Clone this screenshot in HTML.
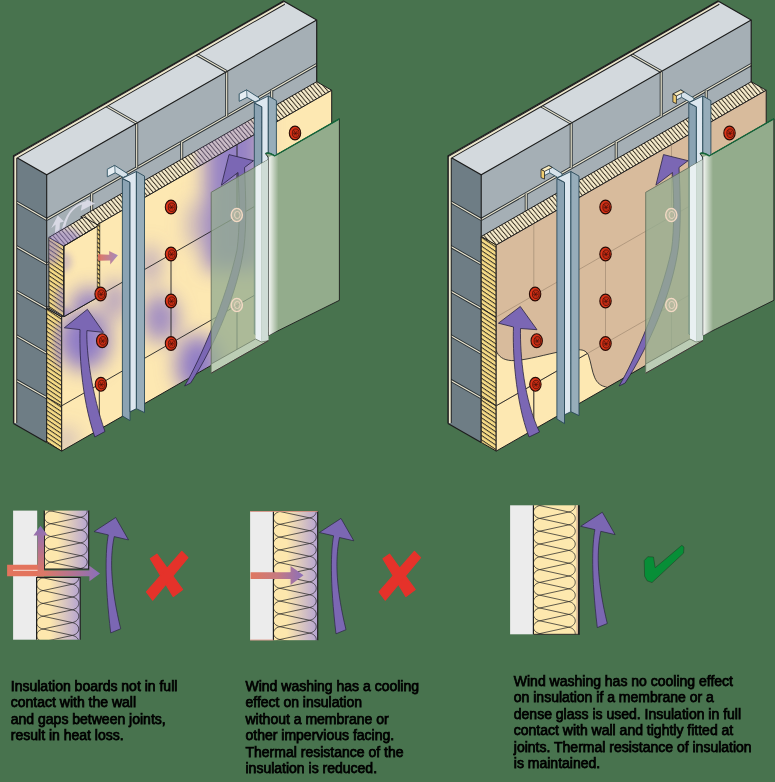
<!DOCTYPE html>
<html><head><meta charset="utf-8"><style>
html,body{margin:0;padding:0;background:#48734e;}
svg{display:block}
</style></head><body>
<svg width="775" height="782" viewBox="0 0 775 782">
<rect width="775" height="782" fill="#48734e"/>

<defs>
<pattern id="hatchTop" patternUnits="userSpaceOnUse" width="4.4" height="40" patternTransform="skewX(40)">
<rect width="4.4" height="40" fill="#f6ecce"/><rect x="0" width="1.0" height="40" fill="#332d24"/><rect x="1.0" width="0.6" height="40" fill="#b0a486"/><rect x="3.7" width="0.7" height="40" fill="#d9cca8"/>
</pattern>
<pattern id="hatchSide" patternUnits="userSpaceOnUse" width="40" height="4.4" patternTransform="skewY(34)">
<rect width="40" height="4.4" fill="#f5da85"/><rect y="0" width="40" height="1.2" fill="#3b352a"/>
</pattern>
<pattern id="hatchSide2" patternUnits="userSpaceOnUse" width="40" height="4.4" patternTransform="skewY(34)">
<rect width="40" height="4.4" fill="#f2d37a"/><rect y="0" width="40" height="1.5" fill="#3b352a"/>
</pattern>
<linearGradient id="glassHi" x1="0" x2="1"><stop offset="0" stop-color="#fff" stop-opacity="0.9"/><stop offset="1" stop-color="#fff" stop-opacity="0"/></linearGradient>
<linearGradient id="salmonIso" gradientUnits="userSpaceOnUse" x1="98" y1="0" x2="118" y2="0"><stop offset="0" stop-color="#e06c58"/><stop offset="1" stop-color="#9a80c0"/></linearGradient>
<filter id="blurA" x="-80%" y="-80%" width="260%" height="260%"><feGaussianBlur stdDeviation="10"/></filter>
<filter id="blurB" x="-60%" y="-60%" width="220%" height="220%"><feGaussianBlur stdDeviation="3"/></filter>
<clipPath id="frontL"><polygon points="61.7,245.1 331.7,90.3 331.7,296.3 61.7,451.1"/></clipPath>
<clipPath id="frontR"><polygon points="496.2,245.1 766.2,90.3 766.2,296.3 496.2,451.1"/></clipPath>
</defs>

<linearGradient id="battGrad" x1="0" x2="1"><stop offset="0.3" stop-color="#fde7ad"/><stop offset="1" stop-color="#b4a3d3"/></linearGradient>
<linearGradient id="salmonH" gradientUnits="userSpaceOnUse" x1="7" y1="0" x2="100" y2="0"><stop offset="0" stop-color="#e5735c"/><stop offset="0.4" stop-color="#dc7868"/><stop offset="1" stop-color="#8a6fbb"/></linearGradient>
<linearGradient id="salmonV" gradientUnits="userSpaceOnUse" x1="0" y1="576" x2="0" y2="526"><stop offset="0" stop-color="#e27660"/><stop offset="1" stop-color="#8a6fba"/></linearGradient>
<linearGradient id="salmonH2" gradientUnits="userSpaceOnUse" x1="250" x2="304"><stop offset="0" stop-color="#e0775f"/><stop offset="0.5" stop-color="#c77a80"/><stop offset="1" stop-color="#8a6fbb"/></linearGradient>
<rect x="13.1" y="510.6" width="24.1" height="129.1" fill="#ececec"/>
<rect x="44.3" y="510.6" width="44.4" height="58.4" fill="url(#battGrad)"/>
<clipPath id="c1"><rect x="44.3" y="510.6" width="44.4" height="58.4"/></clipPath><path clip-path="url(#c1)" d="M80.71,478.90 L50.83,485.30 L80.71,491.70 L50.83,498.10 L80.71,504.50 L50.83,510.90 L80.71,517.30 L50.83,523.70 L80.71,530.10 L50.83,536.50 L80.71,542.90 L50.83,549.30 L80.71,555.70 L50.83,562.10 L80.71,568.50 L50.83,574.90 L80.71,581.30 L50.83,587.70 M50.83,485.30 C42.14,487.16 42.14,496.24 50.83,498.10 M50.83,498.10 C42.14,499.96 42.14,509.04 50.83,510.90 M50.83,510.90 C42.14,512.76 42.14,521.84 50.83,523.70 M50.83,523.70 C42.14,525.56 42.14,534.64 50.83,536.50 M50.83,536.50 C42.14,538.36 42.14,547.44 50.83,549.30 M50.83,549.30 C42.14,551.16 42.14,560.24 50.83,562.10 M50.83,562.10 C42.14,563.96 42.14,573.04 50.83,574.90 M50.83,574.90 C42.14,576.76 42.14,585.84 50.83,587.70 M80.71,478.90 C89.39,480.76 89.39,489.84 80.71,491.70 M80.71,491.70 C89.39,493.56 89.39,502.64 80.71,504.50 M80.71,504.50 C89.39,506.36 89.39,515.44 80.71,517.30 M80.71,517.30 C89.39,519.16 89.39,528.24 80.71,530.10 M80.71,530.10 C89.39,531.96 89.39,541.04 80.71,542.90 M80.71,542.90 C89.39,544.76 89.39,553.84 80.71,555.70 M80.71,555.70 C89.39,557.56 89.39,566.64 80.71,568.50 M80.71,568.50 C89.39,570.36 89.39,579.44 80.71,581.30 M80.71,581.30 C89.39,583.16 89.39,592.24 80.71,594.10" fill="none" stroke="#2a2a2a" stroke-width="0.75"/>
<path d="M44.3,510.6 V569 H88.7 V510.6" fill="none" stroke="#1e1e1e" stroke-width="1.2"/>
<rect x="36.6" y="577.5" width="43.6" height="62.2" fill="url(#battGrad)"/>
<clipPath id="c2"><rect x="36.6" y="577.5" width="43.6" height="62.2"/></clipPath><path clip-path="url(#c2)" d="M72.35,545.80 L43.01,552.20 L72.35,558.60 L43.01,565.00 L72.35,571.40 L43.01,577.80 L72.35,584.20 L43.01,590.60 L72.35,597.00 L43.01,603.40 L72.35,609.80 L43.01,616.20 L72.35,622.60 L43.01,629.00 L72.35,635.40 L43.01,641.80 L72.35,648.20 L43.01,654.60 M43.01,552.20 C34.49,554.06 34.49,563.14 43.01,565.00 M43.01,565.00 C34.49,566.86 34.49,575.94 43.01,577.80 M43.01,577.80 C34.49,579.66 34.49,588.74 43.01,590.60 M43.01,590.60 C34.49,592.46 34.49,601.54 43.01,603.40 M43.01,603.40 C34.49,605.26 34.49,614.34 43.01,616.20 M43.01,616.20 C34.49,618.06 34.49,627.14 43.01,629.00 M43.01,629.00 C34.49,630.86 34.49,639.94 43.01,641.80 M43.01,641.80 C34.49,643.66 34.49,652.74 43.01,654.60 M72.35,545.80 C80.87,547.66 80.87,556.74 72.35,558.60 M72.35,558.60 C80.87,560.46 80.87,569.54 72.35,571.40 M72.35,571.40 C80.87,573.26 80.87,582.34 72.35,584.20 M72.35,584.20 C80.87,586.06 80.87,595.14 72.35,597.00 M72.35,597.00 C80.87,598.86 80.87,607.94 72.35,609.80 M72.35,609.80 C80.87,611.66 80.87,620.74 72.35,622.60 M72.35,622.60 C80.87,624.46 80.87,633.54 72.35,635.40 M72.35,635.40 C80.87,637.26 80.87,646.34 72.35,648.20 M72.35,648.20 C80.87,650.06 80.87,659.14 72.35,661.00" fill="none" stroke="#2a2a2a" stroke-width="0.75"/>
<path d="M36.6,639.7 V577.5 H80.2 V639.7" fill="none" stroke="#1e1e1e" stroke-width="1.2"/>
<path d="M7.1,564.7 H44 V576.2 H7.1 Z" fill="#e3745d"/>
<path d="M37.6,576.2 V535.6 H33.4 L40.5,525.7 L47.6,535.6 H44 V576.2 Z" fill="url(#salmonV)"/>
<path d="M37.6,570.5 H89.4 V565.8 L100,573.6 L89.4,581.3 V576.3 H37.6 Z" fill="url(#salmonH)"/>
<line x1="13" y1="570.3" x2="37.6" y2="570.3" stroke="#fbeee8" stroke-width="0.9"/>
<path d="M108.3,534.9 C105.5,550 104.5,580 110.7,632.9 L120.7,628.8 C111.3,590 109.3,560 114.2,536.6 L128.5,539.9 L115.7,517.5 L94.1,531.6 Z" fill="#7b67b3" stroke="#2a2540" stroke-width="0.7" stroke-linejoin="round"/>
<polygon points="150.4,558.8 156.9,554.2 182.6,589.5 173.2,596.4" fill="#e5322a" stroke="#e5322a" stroke-width="1.2" stroke-linejoin="round"/><polygon points="181.8,551.5 187.9,557.7 152.7,600.2 146.5,592.0" fill="#e5322a" stroke="#e5322a" stroke-width="1.2" stroke-linejoin="round"/>
<rect x="250.1" y="511.2" width="23.3" height="129" fill="#ececec"/>
<rect x="273.4" y="511.2" width="44.3" height="129" fill="url(#battGrad)"/>
<clipPath id="c3"><rect x="273.4" y="511.2" width="44.3" height="129"/></clipPath><path clip-path="url(#c3)" d="M309.73,479.50 L279.91,485.90 L309.73,492.30 L279.91,498.70 L309.73,505.10 L279.91,511.50 L309.73,517.90 L279.91,524.30 L309.73,530.70 L279.91,537.10 L309.73,543.50 L279.91,549.90 L309.73,556.30 L279.91,562.70 L309.73,569.10 L279.91,575.50 L309.73,581.90 L279.91,588.30 L309.73,594.70 L279.91,601.10 L309.73,607.50 L279.91,613.90 L309.73,620.30 L279.91,626.70 L309.73,633.10 L279.91,639.50 L309.73,645.90 L279.91,652.30 L309.73,658.70 L279.91,665.10 M279.91,485.90 C271.25,487.76 271.25,496.84 279.91,498.70 M279.91,498.70 C271.25,500.56 271.25,509.64 279.91,511.50 M279.91,511.50 C271.25,513.36 271.25,522.44 279.91,524.30 M279.91,524.30 C271.25,526.16 271.25,535.24 279.91,537.10 M279.91,537.10 C271.25,538.96 271.25,548.04 279.91,549.90 M279.91,549.90 C271.25,551.76 271.25,560.84 279.91,562.70 M279.91,562.70 C271.25,564.56 271.25,573.64 279.91,575.50 M279.91,575.50 C271.25,577.36 271.25,586.44 279.91,588.30 M279.91,588.30 C271.25,590.16 271.25,599.24 279.91,601.10 M279.91,601.10 C271.25,602.96 271.25,612.04 279.91,613.90 M279.91,613.90 C271.25,615.76 271.25,624.84 279.91,626.70 M279.91,626.70 C271.25,628.56 271.25,637.64 279.91,639.50 M279.91,639.50 C271.25,641.36 271.25,650.44 279.91,652.30 M279.91,652.30 C271.25,654.16 271.25,663.24 279.91,665.10 M309.73,479.50 C318.39,481.36 318.39,490.44 309.73,492.30 M309.73,492.30 C318.39,494.16 318.39,503.24 309.73,505.10 M309.73,505.10 C318.39,506.96 318.39,516.04 309.73,517.90 M309.73,517.90 C318.39,519.76 318.39,528.84 309.73,530.70 M309.73,530.70 C318.39,532.56 318.39,541.64 309.73,543.50 M309.73,543.50 C318.39,545.36 318.39,554.44 309.73,556.30 M309.73,556.30 C318.39,558.16 318.39,567.24 309.73,569.10 M309.73,569.10 C318.39,570.96 318.39,580.04 309.73,581.90 M309.73,581.90 C318.39,583.76 318.39,592.84 309.73,594.70 M309.73,594.70 C318.39,596.56 318.39,605.64 309.73,607.50 M309.73,607.50 C318.39,609.36 318.39,618.44 309.73,620.30 M309.73,620.30 C318.39,622.16 318.39,631.24 309.73,633.10 M309.73,633.10 C318.39,634.96 318.39,644.04 309.73,645.90 M309.73,645.90 C318.39,647.76 318.39,656.84 309.73,658.70" fill="none" stroke="#2a2a2a" stroke-width="0.75"/>
<path d="M273.4,511.2 V640.2 M317.7,511.2 V640.2" fill="none" stroke="#1e1e1e" stroke-width="1.2"/>
<line x1="250.1" y1="511.5" x2="317.7" y2="511.5" stroke="#d98a7a" stroke-width="0.9" opacity="0.85"/><line x1="250.1" y1="640" x2="273.4" y2="640" stroke="#d98a7a" stroke-width="0.9" opacity="0.85"/>
<path d="M250.6,572.2 H290.6 V566 L303.5,575.2 L290.6,585 V579 H250.6 Z" fill="url(#salmonH2)"/>
<path d="M333.6,535.8 C330.8,550.9 329.8,580.9 336.0,633.8 L346.0,629.6999999999999 C336.6,590.9 334.6,560.9 339.5,537.5 L353.8,540.8 L341.0,518.4 L319.4,532.5 Z" fill="#7b67b3" stroke="#2a2540" stroke-width="0.7" stroke-linejoin="round"/>
<polygon points="383.0,558.8 389.5,554.2 415.2,589.5 405.8,596.4" fill="#e5322a" stroke="#e5322a" stroke-width="1.2" stroke-linejoin="round"/><polygon points="414.4,551.5 420.5,557.7 385.3,600.2 379.1,592.0" fill="#e5322a" stroke="#e5322a" stroke-width="1.2" stroke-linejoin="round"/>
<rect x="510.1" y="505.3" width="23.3" height="129" fill="#ececec"/>
<rect x="533.4" y="505.3" width="44.3" height="129" fill="#fde8ae"/>
<clipPath id="c4"><rect x="533.4" y="505.3" width="43.3" height="129"/></clipPath><path clip-path="url(#c4)" d="M568.91,473.60 L539.77,480.00 L568.91,486.40 L539.77,492.80 L568.91,499.20 L539.77,505.60 L568.91,512.00 L539.77,518.40 L568.91,524.80 L539.77,531.20 L568.91,537.60 L539.77,544.00 L568.91,550.40 L539.77,556.80 L568.91,563.20 L539.77,569.60 L568.91,576.00 L539.77,582.40 L568.91,588.80 L539.77,595.20 L568.91,601.60 L539.77,608.00 L568.91,614.40 L539.77,620.80 L568.91,627.20 L539.77,633.60 L568.91,640.00 L539.77,646.40 L568.91,652.80 L539.77,659.20 M539.77,480.00 C531.31,481.86 531.31,490.94 539.77,492.80 M539.77,492.80 C531.31,494.66 531.31,503.74 539.77,505.60 M539.77,505.60 C531.31,507.46 531.31,516.54 539.77,518.40 M539.77,518.40 C531.31,520.26 531.31,529.34 539.77,531.20 M539.77,531.20 C531.31,533.06 531.31,542.14 539.77,544.00 M539.77,544.00 C531.31,545.86 531.31,554.94 539.77,556.80 M539.77,556.80 C531.31,558.66 531.31,567.74 539.77,569.60 M539.77,569.60 C531.31,571.46 531.31,580.54 539.77,582.40 M539.77,582.40 C531.31,584.26 531.31,593.34 539.77,595.20 M539.77,595.20 C531.31,597.06 531.31,606.14 539.77,608.00 M539.77,608.00 C531.31,609.86 531.31,618.94 539.77,620.80 M539.77,620.80 C531.31,622.66 531.31,631.74 539.77,633.60 M539.77,633.60 C531.31,635.46 531.31,644.54 539.77,646.40 M539.77,646.40 C531.31,648.26 531.31,657.34 539.77,659.20 M568.91,473.60 C577.36,475.46 577.36,484.54 568.91,486.40 M568.91,486.40 C577.36,488.26 577.36,497.34 568.91,499.20 M568.91,499.20 C577.36,501.06 577.36,510.14 568.91,512.00 M568.91,512.00 C577.36,513.86 577.36,522.94 568.91,524.80 M568.91,524.80 C577.36,526.66 577.36,535.74 568.91,537.60 M568.91,537.60 C577.36,539.46 577.36,548.54 568.91,550.40 M568.91,550.40 C577.36,552.26 577.36,561.34 568.91,563.20 M568.91,563.20 C577.36,565.06 577.36,574.14 568.91,576.00 M568.91,576.00 C577.36,577.86 577.36,586.94 568.91,588.80 M568.91,588.80 C577.36,590.66 577.36,599.74 568.91,601.60 M568.91,601.60 C577.36,603.46 577.36,612.54 568.91,614.40 M568.91,614.40 C577.36,616.26 577.36,625.34 568.91,627.20 M568.91,627.20 C577.36,629.06 577.36,638.14 568.91,640.00 M568.91,640.00 C577.36,641.86 577.36,650.94 568.91,652.80" fill="none" stroke="#2a2a2a" stroke-width="0.75"/>
<path d="M533.4,505.3 V634.3" fill="none" stroke="#1e1e1e" stroke-width="1.2"/>
<rect x="576.4" y="505.3" width="1.6" height="129" fill="#d9b99a"/>
<rect x="578" y="505.3" width="1.8" height="129" fill="#222"/>
<line x1="533.4" y1="634.3" x2="579.8" y2="634.3" stroke="#222" stroke-width="0.9"/>
<path d="M594.9,529.6 C592.1,544.7 591.1,574.7 597.3000000000001,627.6 L607.3000000000001,623.5 C597.9,584.7 595.9,554.7 600.8000000000001,531.3000000000001 L615.1,534.6 L602.3000000000001,512.2 L580.7,526.3000000000001 Z" fill="#7b67b3" stroke="#2a2540" stroke-width="0.7" stroke-linejoin="round"/>
<polygon points="644.2,560.6 647.8,556.7 653.5,557 655.2,567.7 681.8,545.3 684,547.1 683.6,553.1 652,582.6 647.1,580.8 644.6,576.2" fill="#078e37" stroke="#1d3a20" stroke-width="0.5" stroke-linejoin="round"/>
<polygon points="46.7,174.8 316.7,20.0 316.7,287.6 46.7,442.4" fill="#a5afb5"/>
<polygon points="13.5,155.8 46.7,174.8 46.7,442.4 13.5,423.4" fill="#6e7d85"/>
<polygon points="13.5,155.8 283.5,1.0 316.7,20.0 46.7,174.8" fill="#d3d9dd"/>
<line x1="46.7" y1="219.4" x2="316.7" y2="64.6" stroke="#2a3135" stroke-width="3.0" /><line x1="46.7" y1="219.4" x2="316.7" y2="64.6" stroke="#ebe6d0" stroke-width="1.2" />
<line x1="15.5" y1="201.5" x2="46.7" y2="219.4" stroke="#2a3135" stroke-width="3.0" /><line x1="15.5" y1="201.5" x2="46.7" y2="219.4" stroke="#ebe6d0" stroke-width="1.2" />
<line x1="46.7" y1="264.0" x2="316.7" y2="109.2" stroke="#2a3135" stroke-width="3.0" /><line x1="46.7" y1="264.0" x2="316.7" y2="109.2" stroke="#ebe6d0" stroke-width="1.2" />
<line x1="15.5" y1="246.1" x2="46.7" y2="264.0" stroke="#2a3135" stroke-width="3.0" /><line x1="15.5" y1="246.1" x2="46.7" y2="264.0" stroke="#ebe6d0" stroke-width="1.2" />
<line x1="46.7" y1="308.6" x2="316.7" y2="153.8" stroke="#2a3135" stroke-width="3.0" /><line x1="46.7" y1="308.6" x2="316.7" y2="153.8" stroke="#ebe6d0" stroke-width="1.2" />
<line x1="15.5" y1="290.7" x2="46.7" y2="308.6" stroke="#2a3135" stroke-width="3.0" /><line x1="15.5" y1="290.7" x2="46.7" y2="308.6" stroke="#ebe6d0" stroke-width="1.2" />
<line x1="46.7" y1="353.2" x2="316.7" y2="198.4" stroke="#2a3135" stroke-width="3.0" /><line x1="46.7" y1="353.2" x2="316.7" y2="198.4" stroke="#ebe6d0" stroke-width="1.2" />
<line x1="15.5" y1="335.3" x2="46.7" y2="353.2" stroke="#2a3135" stroke-width="3.0" /><line x1="15.5" y1="335.3" x2="46.7" y2="353.2" stroke="#ebe6d0" stroke-width="1.2" />
<line x1="46.7" y1="397.8" x2="316.7" y2="243.0" stroke="#2a3135" stroke-width="3.0" /><line x1="46.7" y1="397.8" x2="316.7" y2="243.0" stroke="#ebe6d0" stroke-width="1.2" />
<line x1="15.5" y1="379.9" x2="46.7" y2="397.8" stroke="#2a3135" stroke-width="3.0" /><line x1="15.5" y1="379.9" x2="46.7" y2="397.8" stroke="#ebe6d0" stroke-width="1.2" />
<line x1="136.7" y1="123.2" x2="136.7" y2="167.8" stroke="#2a3135" stroke-width="3.0" /><line x1="136.7" y1="123.2" x2="136.7" y2="167.8" stroke="#ebe6d0" stroke-width="1.2" />
<line x1="136.7" y1="123.2" x2="103.5" y2="104.2" stroke="#2a3135" stroke-width="3.0" /><line x1="136.7" y1="123.2" x2="103.5" y2="104.2" stroke="#ebe6d0" stroke-width="1.2" />
<line x1="226.7" y1="71.6" x2="226.7" y2="116.2" stroke="#2a3135" stroke-width="3.0" /><line x1="226.7" y1="71.6" x2="226.7" y2="116.2" stroke="#ebe6d0" stroke-width="1.2" />
<line x1="226.7" y1="71.6" x2="193.5" y2="52.6" stroke="#2a3135" stroke-width="3.0" /><line x1="226.7" y1="71.6" x2="193.5" y2="52.6" stroke="#ebe6d0" stroke-width="1.2" />
<line x1="91.7" y1="193.6" x2="91.7" y2="238.2" stroke="#2a3135" stroke-width="3.0" /><line x1="91.7" y1="193.6" x2="91.7" y2="238.2" stroke="#ebe6d0" stroke-width="1.2" />
<line x1="181.7" y1="142.0" x2="181.7" y2="186.6" stroke="#2a3135" stroke-width="3.0" /><line x1="181.7" y1="142.0" x2="181.7" y2="186.6" stroke="#ebe6d0" stroke-width="1.2" />
<line x1="271.7" y1="90.4" x2="271.7" y2="135.0" stroke="#2a3135" stroke-width="3.0" /><line x1="271.7" y1="90.4" x2="271.7" y2="135.0" stroke="#ebe6d0" stroke-width="1.2" />
<line x1="136.7" y1="212.4" x2="136.7" y2="257.0" stroke="#2a3135" stroke-width="3.0" /><line x1="136.7" y1="212.4" x2="136.7" y2="257.0" stroke="#ebe6d0" stroke-width="1.2" />
<line x1="226.7" y1="160.8" x2="226.7" y2="205.4" stroke="#2a3135" stroke-width="3.0" /><line x1="226.7" y1="160.8" x2="226.7" y2="205.4" stroke="#ebe6d0" stroke-width="1.2" />
<line x1="91.7" y1="282.8" x2="91.7" y2="327.4" stroke="#2a3135" stroke-width="3.0" /><line x1="91.7" y1="282.8" x2="91.7" y2="327.4" stroke="#ebe6d0" stroke-width="1.2" />
<line x1="181.7" y1="231.2" x2="181.7" y2="275.8" stroke="#2a3135" stroke-width="3.0" /><line x1="181.7" y1="231.2" x2="181.7" y2="275.8" stroke="#ebe6d0" stroke-width="1.2" />
<line x1="271.7" y1="179.6" x2="271.7" y2="224.2" stroke="#2a3135" stroke-width="3.0" /><line x1="271.7" y1="179.6" x2="271.7" y2="224.2" stroke="#ebe6d0" stroke-width="1.2" />
<line x1="136.7" y1="301.6" x2="136.7" y2="346.2" stroke="#2a3135" stroke-width="3.0" /><line x1="136.7" y1="301.6" x2="136.7" y2="346.2" stroke="#ebe6d0" stroke-width="1.2" />
<line x1="226.7" y1="250.0" x2="226.7" y2="294.6" stroke="#2a3135" stroke-width="3.0" /><line x1="226.7" y1="250.0" x2="226.7" y2="294.6" stroke="#ebe6d0" stroke-width="1.2" />
<line x1="91.7" y1="372.0" x2="91.7" y2="416.6" stroke="#2a3135" stroke-width="3.0" /><line x1="91.7" y1="372.0" x2="91.7" y2="416.6" stroke="#ebe6d0" stroke-width="1.2" />
<line x1="181.7" y1="320.4" x2="181.7" y2="365.0" stroke="#2a3135" stroke-width="3.0" /><line x1="181.7" y1="320.4" x2="181.7" y2="365.0" stroke="#ebe6d0" stroke-width="1.2" />
<line x1="271.7" y1="268.8" x2="271.7" y2="313.4" stroke="#2a3135" stroke-width="3.0" /><line x1="271.7" y1="268.8" x2="271.7" y2="313.4" stroke="#ebe6d0" stroke-width="1.2" />
<polyline points="13.5,423.4 13.5,155.8 283.5,1.0 316.7,20.0 316.7,287.6" fill="none" stroke="#1d1d1d" stroke-width="1.2"/>
<polyline points="13.5,155.8 46.7,174.8 316.7,20.0" fill="none" stroke="#1d1d1d" stroke-width="1.1"/>
<line x1="46.7" y1="174.8" x2="46.7" y2="442.4" stroke="#1d1d1d" stroke-width="1.1" />
<polyline points="13.5,423.4 46.7,442.4" fill="none" stroke="#1d1d1d" stroke-width="1.2"/>
<polyline points="15.3,422.9 15.3,157.4 284.1,3.0" fill="none" stroke="#1d1d1d" stroke-width="3.8"/>
<polyline points="15.3,422.9 15.3,157.4 284.1,3.0" fill="none" stroke="#ece6cc" stroke-width="1.9"/>
<g fill="#dcdce8" fill-opacity="0.92"><path d="M54.6,236 L55.6,224.5 L51.2,228.2 L57.8,215.4 L64,221.5 L59.9,222.8 L59.2,236 Z"/><path d="M64.8,231 C66,218 72,208 82,204.6 L80.8,210.8 L95,203.4 L87,199.6 L85.8,201.2 C72,204 64.5,216 61.5,231 Z"/></g>
<polygon points="80.7,217.0 316.7,81.7 331.7,90.3 95.7,225.6" fill="url(#hatchTop)" stroke="#1d1d1d" stroke-width="1"/>
<polygon points="46.7,308.4 61.7,317.0 61.7,451.1 46.7,442.4" fill="url(#hatchSide)" stroke="#1d1d1d" stroke-width="1"/>
<line x1="46.7" y1="308.4" x2="61.7" y2="317.0" stroke="#1d1d1d" stroke-width="0.9" /><line x1="46.7" y1="397.2" x2="61.7" y2="405.8" stroke="#1d1d1d" stroke-width="0.9" />
<clipPath id="topStripL"><polygon points="46.7,236.5 316.7,81.7 331.7,90.3 61.7,245.1"/></clipPath><clipPath id="sideStripL"><polygon points="46.7,236.5 61.7,245.1 61.7,451.1 46.7,442.4"/></clipPath>
<g clip-path="url(#topStripL)" opacity="0.4"><g filter="url(#blurB)" fill="#8f7cc6"><rect x="196" y="120" width="60" height="60"/><ellipse cx="70" cy="238" rx="20" ry="10"/></g></g>
<g clip-path="url(#sideStripL)" opacity="0.55"><g filter="url(#blurB)" fill="#8f7cc6"><ellipse cx="62" cy="345" rx="9" ry="24"/></g></g>
<polygon points="61.7,245.1 331.7,90.3 331.7,296.3 61.7,451.1" fill="#fde8b2"/>
<g clip-path="url(#frontL)"><g filter="url(#blurA)" fill="#8f7cc6"><ellipse cx="84" cy="340" rx="26" ry="30" opacity="1"/><ellipse cx="115" cy="300" rx="12" ry="20" opacity="0.7"/><ellipse cx="150" cy="265" rx="10" ry="20" opacity="0.6"/><ellipse cx="160" cy="318" rx="18" ry="24" opacity="0.85"/><ellipse cx="198" cy="365" rx="22" ry="30" opacity="1"/><polygon points="205,120 262,80 262,270 205,270" opacity="0.95"/><ellipse cx="195" cy="225" rx="8" ry="25" opacity="0.5"/><ellipse cx="66" cy="440" rx="10" ry="12" opacity="0.5"/></g></g>
<polygon points="61.7,245.1 331.7,90.3 331.7,296.3 61.7,451.1" fill="none" stroke="#1d1d1d" stroke-width="1"/>
<g opacity="1"><line x1="61.7" y1="317.0" x2="331.7" y2="162.2" stroke="#222" stroke-width="0.9" /><line x1="61.7" y1="405.8" x2="331.7" y2="251.0" stroke="#222" stroke-width="0.9" /><line x1="99.3" y1="223.5" x2="99.3" y2="295.4" stroke="#222" stroke-width="0.9" /><line x1="99.3" y1="384.2" x2="99.3" y2="429.5" stroke="#222" stroke-width="0.9" /><line x1="237.0" y1="144.6" x2="237.0" y2="216.5" stroke="#222" stroke-width="0.9" /><line x1="237.0" y1="305.3" x2="237.0" y2="350.6" stroke="#222" stroke-width="0.9" /><line x1="171.0" y1="254.3" x2="171.0" y2="343.1" stroke="#222" stroke-width="0.9" /><line x1="309.0" y1="175.2" x2="309.0" y2="264.0" stroke="#222" stroke-width="0.9" /></g>
<polygon points="48.9,237.5 83.7,216.9 98.7,225.5 63.9,246.1" fill="url(#hatchTop)" stroke="#1d1d1d" stroke-width="1"/>
<polygon points="48.9,237.5 63.9,246.1 63.9,316.7 48.9,308.1" fill="url(#hatchSide)" stroke="#1d1d1d" stroke-width="1"/>
<clipPath id="pbTop"><polygon points="48.9,237.5 83.7,216.9 98.7,225.5 63.9,246.1"/></clipPath><clipPath id="pbSide"><polygon points="48.9,237.5 63.9,246.1 63.9,316.7 48.9,308.1"/></clipPath>
<g clip-path="url(#pbTop)" opacity="0.6"><ellipse cx="60" cy="240" rx="22" ry="12" fill="#8f7cc6" filter="url(#blurB)"/></g>
<g clip-path="url(#pbSide)" opacity="0.55"><ellipse cx="52" cy="250" rx="8" ry="14" fill="#8f7cc6" filter="url(#blurB)"/><ellipse cx="62" cy="300" rx="6" ry="14" fill="#8f7cc6" filter="url(#blurB)"/></g>
<polygon points="63.9,246.1 98.7,225.5 98.7,296.8 63.9,316.7" fill="#fde8b2" stroke="#1d1d1d" stroke-width="1"/>
<clipPath id="pbClip"><polygon points="63.9,246.1 98.7,225.5 98.7,296.8 63.9,316.7"/></clipPath>
<g clip-path="url(#pbClip)"><ellipse cx="90" cy="310" rx="20" ry="22" fill="#8f7cc6" opacity="0.95" filter="url(#blurA)"/><ellipse cx="62" cy="318" rx="12" ry="10" fill="#8f7cc6" opacity="0.7" filter="url(#blurB)"/><ellipse cx="64" cy="262" rx="8" ry="10" fill="#9683c8" opacity="0.4" filter="url(#blurB)"/></g>
<polygon points="63.9,246.1 98.7,225.5 98.7,296.8 63.9,316.7" fill="none" stroke="#1d1d1d" stroke-width="1"/>
<polygon points="97.3,225.5 99.8,223.5 99.8,296.8 97.3,297.8" fill="url(#hatchSide2)" stroke="#1d1d1d" stroke-width="0.6"/>
<path d="M98,254.3 L109.2,254.8 L109.1,251 L117.9,255.3 L110.2,264.6 L110.2,260.6 L98,260.8 Z" fill="url(#salmonIso)" opacity="0.9"/>
<path d="M80,329.6 C79.5,350 80.5,395 94.8,437 L105,431.5 C92,395 86,352 86.9,330.6 L103.5,332.4 L87.4,309.3 L64.3,327.8 Z" fill="#7b67b4" stroke="#2a2342" stroke-width="0.8" stroke-linejoin="round"/>
<path d="M184.6,386 C200,360 226,300 237,250 C240,228 239.5,200 238,172.5 L221.4,185.2 L229,154.6 L253.6,160.7 L244.5,167.5 C246,200 246.5,225 244,247 C238,292 215,345 190.7,383 Z" fill="#7b67b4" stroke="#2a2342" stroke-width="0.8" stroke-linejoin="round"/>
<polygon points="107.4,169.3 114.7,165.4 127.5,173.6 127.5,175.5 123.2,177.4 115.1,172.8 107.4,176.7" fill="#d6e2ea" stroke="#2c5060" stroke-width="0.9" stroke-linejoin="round"/>
<polygon points="107.4,169.3 114.7,165.4 115.1,172.8 107.4,176.7" fill="#e6eef3" stroke="#2c5060" stroke-width="0.7"/>
<polygon points="122.4,178.7 130.0,182.3 130.0,420.6 122.4,416.0" fill="#8ba3b3" stroke="#284858" stroke-width="0.9" stroke-linejoin="round"/>
<polygon points="122.4,178.3 136.4,171.5 136.4,408.7 130.0,411.8 130.0,182.3" fill="#dde7ef" stroke="#284858" stroke-width="0.9" stroke-linejoin="round"/>
<polygon points="136.4,171.5 144.5,176.1 144.5,412.6 136.4,408.7" fill="#97adba" stroke="#284858" stroke-width="0.9" stroke-linejoin="round"/>
<polygon points="239.3,93.8 246.6,89.9 259.4,98.1 259.4,100.0 255.1,101.9 247.0,97.3 239.3,101.2" fill="#d6e2ea" stroke="#2c5060" stroke-width="0.9" stroke-linejoin="round"/>
<polygon points="239.3,93.8 246.6,89.9 247.0,97.3 239.3,101.2" fill="#e6eef3" stroke="#2c5060" stroke-width="0.7"/>
<polygon points="254.3,103.2 261.9,106.8 261.9,338.6 254.3,334.0" fill="#8ba3b3" stroke="#284858" stroke-width="0.9" stroke-linejoin="round"/>
<polygon points="254.3,102.8 268.3,96.0 268.3,326.7 261.9,329.8 261.9,106.8" fill="#dde7ef" stroke="#284858" stroke-width="0.9" stroke-linejoin="round"/>
<polygon points="268.3,96.0 276.4,100.6 276.4,330.6 268.3,326.7" fill="#97adba" stroke="#284858" stroke-width="0.9" stroke-linejoin="round"/>
<g opacity="1.0"><ellipse cx="100.6" cy="294.0" rx="5.7" ry="6.9" fill="#dc3418" stroke="#2a0c06" stroke-width="1.1"/><ellipse cx="101.3" cy="294.2" rx="3.4" ry="4.3" fill="#c42b12" stroke="#4a120a" stroke-width="0.8"/><path d="M99.4,291.4 l2.8,5 M103.0,291.8 l-3.2,4.4 M98.6,294.3 h5" stroke="#3a0e08" stroke-width="0.6"/></g>
<g opacity="1.0"><ellipse cx="102.2" cy="340.7" rx="5.7" ry="6.9" fill="#dc3418" stroke="#2a0c06" stroke-width="1.1"/><ellipse cx="102.9" cy="340.9" rx="3.4" ry="4.3" fill="#c42b12" stroke="#4a120a" stroke-width="0.8"/><path d="M101.0,338.1 l2.8,5 M104.6,338.5 l-3.2,4.4 M100.2,341.0 h5" stroke="#3a0e08" stroke-width="0.6"/></g>
<g opacity="1.0"><ellipse cx="100.9" cy="384.3" rx="5.7" ry="6.9" fill="#dc3418" stroke="#2a0c06" stroke-width="1.1"/><ellipse cx="101.6" cy="384.5" rx="3.4" ry="4.3" fill="#c42b12" stroke="#4a120a" stroke-width="0.8"/><path d="M99.7,381.7 l2.8,5 M103.3,382.1 l-3.2,4.4 M98.9,384.6 h5" stroke="#3a0e08" stroke-width="0.6"/></g>
<g opacity="1.0"><ellipse cx="171.0" cy="207.0" rx="5.7" ry="6.9" fill="#dc3418" stroke="#2a0c06" stroke-width="1.1"/><ellipse cx="171.7" cy="207.2" rx="3.4" ry="4.3" fill="#c42b12" stroke="#4a120a" stroke-width="0.8"/><path d="M169.8,204.4 l2.8,5 M173.4,204.8 l-3.2,4.4 M169.0,207.3 h5" stroke="#3a0e08" stroke-width="0.6"/></g>
<g opacity="1.0"><ellipse cx="171.0" cy="254.0" rx="5.7" ry="6.9" fill="#dc3418" stroke="#2a0c06" stroke-width="1.1"/><ellipse cx="171.7" cy="254.2" rx="3.4" ry="4.3" fill="#c42b12" stroke="#4a120a" stroke-width="0.8"/><path d="M169.8,251.4 l2.8,5 M173.4,251.8 l-3.2,4.4 M169.0,254.3 h5" stroke="#3a0e08" stroke-width="0.6"/></g>
<g opacity="1.0"><ellipse cx="171.0" cy="301.0" rx="5.7" ry="6.9" fill="#dc3418" stroke="#2a0c06" stroke-width="1.1"/><ellipse cx="171.7" cy="301.2" rx="3.4" ry="4.3" fill="#c42b12" stroke="#4a120a" stroke-width="0.8"/><path d="M169.8,298.4 l2.8,5 M173.4,298.8 l-3.2,4.4 M169.0,301.3 h5" stroke="#3a0e08" stroke-width="0.6"/></g>
<g opacity="1.0"><ellipse cx="171.0" cy="343.5" rx="5.7" ry="6.9" fill="#dc3418" stroke="#2a0c06" stroke-width="1.1"/><ellipse cx="171.7" cy="343.7" rx="3.4" ry="4.3" fill="#c42b12" stroke="#4a120a" stroke-width="0.8"/><path d="M169.8,340.9 l2.8,5 M173.4,341.3 l-3.2,4.4 M169.0,343.8 h5" stroke="#3a0e08" stroke-width="0.6"/></g>
<g opacity="1.0"><ellipse cx="295.0" cy="133.0" rx="5.7" ry="6.9" fill="#dc3418" stroke="#2a0c06" stroke-width="1.1"/><ellipse cx="295.7" cy="133.2" rx="3.4" ry="4.3" fill="#c42b12" stroke="#4a120a" stroke-width="0.8"/><path d="M293.8,130.4 l2.8,5 M297.4,130.8 l-3.2,4.4 M293.0,133.3 h5" stroke="#3a0e08" stroke-width="0.6"/></g>
<polygon points="211.2,192.3 268.0,159.7 268.0,340.6 211.2,373.2" fill="#95ad91" fill-opacity="0.78" stroke="#5d6a58" stroke-width="0.8"/>
<polygon points="255.5,167.0 261.6,163.5 261.6,342.0 255.5,339.0" fill="#e9f0f2"/>
<polygon points="261.6,163.5 268.5,159.5 268.5,340.6 261.6,342.0" fill="#cfdcd6"/>
<polygon points="211.2,364.0 255.5,339.0 261.6,342.0 268.5,340.6 211.2,373.2" fill="#bccdb5" stroke="#5d6a58" stroke-width="0.6"/>
<polyline points="211.2,373.2 268.5,340.6" fill="none" stroke="#3a3030" stroke-width="0.9"/>
<ellipse cx="236.8" cy="215.0" rx="5.6" ry="6.6" fill="#c5c1a8" fill-opacity="0.6" stroke="#f3d9c4" stroke-width="1.4"/><ellipse cx="237.3" cy="215.0" rx="2.8" ry="3.6" fill="none" stroke="#f3d9c4" stroke-width="0.8"/>
<ellipse cx="236.8" cy="305.0" rx="5.6" ry="6.6" fill="#c5c1a8" fill-opacity="0.6" stroke="#f3d9c4" stroke-width="1.4"/><ellipse cx="237.3" cy="305.0" rx="2.8" ry="3.6" fill="none" stroke="#f3d9c4" stroke-width="0.8"/>
<path d="M265.5,153.6 Q268.5,151.8 274.8,155.8 L339.4,118.8 L339.4,300.3 L268.7,335.4 L268.7,158 Z" fill="#93ac8c" stroke="#1d1d1d" stroke-width="0.9"/>
<path d="M268.7,157 L278.5,153 L278.5,330.5 L268.7,335.4 Z" fill="url(#glassHi)"/>
<path d="M265.5,153.6 Q268.5,151.8 274.8,155.8 L339.4,118.8" fill="none" stroke="#12673a" stroke-width="1.4"/>
<polygon points="481.2,174.8 751.2,20.0 751.2,287.6 481.2,442.4" fill="#a5afb5"/>
<polygon points="448.0,155.8 481.2,174.8 481.2,442.4 448.0,423.4" fill="#6e7d85"/>
<polygon points="448.0,155.8 718.0,1.0 751.2,20.0 481.2,174.8" fill="#d3d9dd"/>
<line x1="481.2" y1="219.4" x2="751.2" y2="64.6" stroke="#2a3135" stroke-width="3.0" /><line x1="481.2" y1="219.4" x2="751.2" y2="64.6" stroke="#ebe6d0" stroke-width="1.2" />
<line x1="450.0" y1="201.5" x2="481.2" y2="219.4" stroke="#2a3135" stroke-width="3.0" /><line x1="450.0" y1="201.5" x2="481.2" y2="219.4" stroke="#ebe6d0" stroke-width="1.2" />
<line x1="481.2" y1="264.0" x2="751.2" y2="109.2" stroke="#2a3135" stroke-width="3.0" /><line x1="481.2" y1="264.0" x2="751.2" y2="109.2" stroke="#ebe6d0" stroke-width="1.2" />
<line x1="450.0" y1="246.1" x2="481.2" y2="264.0" stroke="#2a3135" stroke-width="3.0" /><line x1="450.0" y1="246.1" x2="481.2" y2="264.0" stroke="#ebe6d0" stroke-width="1.2" />
<line x1="481.2" y1="308.6" x2="751.2" y2="153.8" stroke="#2a3135" stroke-width="3.0" /><line x1="481.2" y1="308.6" x2="751.2" y2="153.8" stroke="#ebe6d0" stroke-width="1.2" />
<line x1="450.0" y1="290.7" x2="481.2" y2="308.6" stroke="#2a3135" stroke-width="3.0" /><line x1="450.0" y1="290.7" x2="481.2" y2="308.6" stroke="#ebe6d0" stroke-width="1.2" />
<line x1="481.2" y1="353.2" x2="751.2" y2="198.4" stroke="#2a3135" stroke-width="3.0" /><line x1="481.2" y1="353.2" x2="751.2" y2="198.4" stroke="#ebe6d0" stroke-width="1.2" />
<line x1="450.0" y1="335.3" x2="481.2" y2="353.2" stroke="#2a3135" stroke-width="3.0" /><line x1="450.0" y1="335.3" x2="481.2" y2="353.2" stroke="#ebe6d0" stroke-width="1.2" />
<line x1="481.2" y1="397.8" x2="751.2" y2="243.0" stroke="#2a3135" stroke-width="3.0" /><line x1="481.2" y1="397.8" x2="751.2" y2="243.0" stroke="#ebe6d0" stroke-width="1.2" />
<line x1="450.0" y1="379.9" x2="481.2" y2="397.8" stroke="#2a3135" stroke-width="3.0" /><line x1="450.0" y1="379.9" x2="481.2" y2="397.8" stroke="#ebe6d0" stroke-width="1.2" />
<line x1="571.2" y1="123.2" x2="571.2" y2="167.8" stroke="#2a3135" stroke-width="3.0" /><line x1="571.2" y1="123.2" x2="571.2" y2="167.8" stroke="#ebe6d0" stroke-width="1.2" />
<line x1="571.2" y1="123.2" x2="538.0" y2="104.2" stroke="#2a3135" stroke-width="3.0" /><line x1="571.2" y1="123.2" x2="538.0" y2="104.2" stroke="#ebe6d0" stroke-width="1.2" />
<line x1="661.2" y1="71.6" x2="661.2" y2="116.2" stroke="#2a3135" stroke-width="3.0" /><line x1="661.2" y1="71.6" x2="661.2" y2="116.2" stroke="#ebe6d0" stroke-width="1.2" />
<line x1="661.2" y1="71.6" x2="628.0" y2="52.6" stroke="#2a3135" stroke-width="3.0" /><line x1="661.2" y1="71.6" x2="628.0" y2="52.6" stroke="#ebe6d0" stroke-width="1.2" />
<line x1="526.2" y1="193.6" x2="526.2" y2="238.2" stroke="#2a3135" stroke-width="3.0" /><line x1="526.2" y1="193.6" x2="526.2" y2="238.2" stroke="#ebe6d0" stroke-width="1.2" />
<line x1="616.2" y1="142.0" x2="616.2" y2="186.6" stroke="#2a3135" stroke-width="3.0" /><line x1="616.2" y1="142.0" x2="616.2" y2="186.6" stroke="#ebe6d0" stroke-width="1.2" />
<line x1="706.2" y1="90.4" x2="706.2" y2="135.0" stroke="#2a3135" stroke-width="3.0" /><line x1="706.2" y1="90.4" x2="706.2" y2="135.0" stroke="#ebe6d0" stroke-width="1.2" />
<line x1="571.2" y1="212.4" x2="571.2" y2="257.0" stroke="#2a3135" stroke-width="3.0" /><line x1="571.2" y1="212.4" x2="571.2" y2="257.0" stroke="#ebe6d0" stroke-width="1.2" />
<line x1="661.2" y1="160.8" x2="661.2" y2="205.4" stroke="#2a3135" stroke-width="3.0" /><line x1="661.2" y1="160.8" x2="661.2" y2="205.4" stroke="#ebe6d0" stroke-width="1.2" />
<line x1="526.2" y1="282.8" x2="526.2" y2="327.4" stroke="#2a3135" stroke-width="3.0" /><line x1="526.2" y1="282.8" x2="526.2" y2="327.4" stroke="#ebe6d0" stroke-width="1.2" />
<line x1="616.2" y1="231.2" x2="616.2" y2="275.8" stroke="#2a3135" stroke-width="3.0" /><line x1="616.2" y1="231.2" x2="616.2" y2="275.8" stroke="#ebe6d0" stroke-width="1.2" />
<line x1="706.2" y1="179.6" x2="706.2" y2="224.2" stroke="#2a3135" stroke-width="3.0" /><line x1="706.2" y1="179.6" x2="706.2" y2="224.2" stroke="#ebe6d0" stroke-width="1.2" />
<line x1="571.2" y1="301.6" x2="571.2" y2="346.2" stroke="#2a3135" stroke-width="3.0" /><line x1="571.2" y1="301.6" x2="571.2" y2="346.2" stroke="#ebe6d0" stroke-width="1.2" />
<line x1="661.2" y1="250.0" x2="661.2" y2="294.6" stroke="#2a3135" stroke-width="3.0" /><line x1="661.2" y1="250.0" x2="661.2" y2="294.6" stroke="#ebe6d0" stroke-width="1.2" />
<line x1="526.2" y1="372.0" x2="526.2" y2="416.6" stroke="#2a3135" stroke-width="3.0" /><line x1="526.2" y1="372.0" x2="526.2" y2="416.6" stroke="#ebe6d0" stroke-width="1.2" />
<line x1="616.2" y1="320.4" x2="616.2" y2="365.0" stroke="#2a3135" stroke-width="3.0" /><line x1="616.2" y1="320.4" x2="616.2" y2="365.0" stroke="#ebe6d0" stroke-width="1.2" />
<line x1="706.2" y1="268.8" x2="706.2" y2="313.4" stroke="#2a3135" stroke-width="3.0" /><line x1="706.2" y1="268.8" x2="706.2" y2="313.4" stroke="#ebe6d0" stroke-width="1.2" />
<polyline points="448.0,423.4 448.0,155.8 718.0,1.0 751.2,20.0 751.2,287.6" fill="none" stroke="#1d1d1d" stroke-width="1.2"/>
<polyline points="448.0,155.8 481.2,174.8 751.2,20.0" fill="none" stroke="#1d1d1d" stroke-width="1.1"/>
<line x1="481.2" y1="174.8" x2="481.2" y2="442.4" stroke="#1d1d1d" stroke-width="1.1" />
<polyline points="448.0,423.4 481.2,442.4" fill="none" stroke="#1d1d1d" stroke-width="1.2"/>
<polyline points="449.8,422.9 449.8,157.4 718.6,3.0" fill="none" stroke="#1d1d1d" stroke-width="3.8"/>
<polyline points="449.8,422.9 449.8,157.4 718.6,3.0" fill="none" stroke="#ece6cc" stroke-width="1.9"/>
<polygon points="481.2,236.5 751.2,81.7 766.2,90.3 496.2,245.1" fill="url(#hatchTop)" stroke="#1d1d1d" stroke-width="1"/>
<polygon points="481.2,236.5 496.2,245.1 496.2,451.1 481.2,442.4" fill="url(#hatchSide)" stroke="#1d1d1d" stroke-width="1"/>
<line x1="481.2" y1="308.4" x2="496.2" y2="317.0" stroke="#1d1d1d" stroke-width="0.9" /><line x1="481.2" y1="397.2" x2="496.2" y2="405.8" stroke="#1d1d1d" stroke-width="0.9" />
<polygon points="496.2,245.1 766.2,90.3 766.2,296.3 496.2,451.1" fill="#d8bb9c"/>
<clipPath id="wetClip"><path d="M480,350.7 L496.3,350.7 C498,356 503,360.2 511.7,360.6 C522,361 540,356 556,352.5 L578.5,349.8 C584,349.5 587,352 588.4,355.2 C591,362 592,372 594.8,377.8 C597,383 601,386 605.6,386.8 L680,420 L680,470 L480,470 Z"/></clipPath>
<g clip-path="url(#frontR)"><path d="M480,350.7 L496.3,350.7 C498,356 503,360.2 511.7,360.6 C522,361 540,356 556,352.5 L578.5,349.8 C584,349.5 587,352 588.4,355.2 C591,362 592,372 594.8,377.8 C597,383 601,386 605.6,386.8 L680,420 L680,470 L480,470 Z" fill="#fde8b2" stroke="#2a2a2a" stroke-width="0.9"/></g>
<polygon points="496.2,245.1 766.2,90.3 766.2,296.3 496.2,451.1" fill="none" stroke="#1d1d1d" stroke-width="1"/>
<g opacity="0.8"><line x1="496.2" y1="317.0" x2="766.2" y2="162.2" stroke="#8a7560" stroke-width="0.6" /><line x1="496.2" y1="405.8" x2="766.2" y2="251.0" stroke="#8a7560" stroke-width="0.6" /><line x1="533.8" y1="223.5" x2="533.8" y2="295.4" stroke="#8a7560" stroke-width="0.6" /><line x1="533.8" y1="384.2" x2="533.8" y2="429.5" stroke="#8a7560" stroke-width="0.6" /><line x1="671.5" y1="144.6" x2="671.5" y2="216.5" stroke="#8a7560" stroke-width="0.6" /><line x1="671.5" y1="305.3" x2="671.5" y2="350.6" stroke="#8a7560" stroke-width="0.6" /><line x1="605.5" y1="254.3" x2="605.5" y2="343.1" stroke="#8a7560" stroke-width="0.6" /><line x1="743.5" y1="175.2" x2="743.5" y2="264.0" stroke="#8a7560" stroke-width="0.6" /></g>
<g clip-path="url(#wetClip)"><g opacity="1"><line x1="496.2" y1="317.0" x2="766.2" y2="162.2" stroke="#222" stroke-width="0.9" /><line x1="496.2" y1="405.8" x2="766.2" y2="251.0" stroke="#222" stroke-width="0.9" /><line x1="533.8" y1="223.5" x2="533.8" y2="295.4" stroke="#222" stroke-width="0.9" /><line x1="533.8" y1="384.2" x2="533.8" y2="429.5" stroke="#222" stroke-width="0.9" /><line x1="671.5" y1="144.6" x2="671.5" y2="216.5" stroke="#222" stroke-width="0.9" /><line x1="671.5" y1="305.3" x2="671.5" y2="350.6" stroke="#222" stroke-width="0.9" /><line x1="605.5" y1="254.3" x2="605.5" y2="343.1" stroke="#222" stroke-width="0.9" /><line x1="743.5" y1="175.2" x2="743.5" y2="264.0" stroke="#222" stroke-width="0.9" /></g></g>
<path d="M513.5,327 C512.5,350 515,400 529,437 L539.5,432 C524,400 520,355 520.5,328.5 L537,329.7 L520.3,306.5 L498.4,323.2 Z" fill="#7b67b4" stroke="#2a2342" stroke-width="0.8" stroke-linejoin="round"/>
<path d="M619.1,386 C634.5,360 660.5,300 671.5,250 C674.5,228 674.0,200 672.5,172.5 L655.9,185.2 L663.5,154.6 L688.1,160.7 L679.0,167.5 C680.5,200 681.0,225 678.5,247 C672.5,292 649.5,345 625.2,383 Z" fill="#7b67b4" stroke="#2a2342" stroke-width="0.8" stroke-linejoin="round"/>
<polygon points="541.9,169.3 549.2,165.4 562.0,173.6 562.0,175.5 557.7,177.4 549.6,172.8 541.9,176.7" fill="#d6e2ea" stroke="#2c5060" stroke-width="0.9" stroke-linejoin="round"/>
<polygon points="541.9,169.3 549.2,165.4 549.6,172.8 541.9,176.7" fill="#e6eef3" stroke="#2c5060" stroke-width="0.7"/>
<polygon points="541.0,169.4 548.8,165.6 552.3,167.5 544.5,171.4" fill="#fbeec0" stroke="#222" stroke-width="0.8"/>
<polygon points="541.0,169.4 544.5,171.4 544.5,179.1 541.0,177.6" fill="#f2cf72" stroke="#222" stroke-width="0.8"/>
<polygon points="556.9,178.7 564.5,182.3 564.5,423.6 556.9,419.0" fill="#8ba3b3" stroke="#284858" stroke-width="0.9" stroke-linejoin="round"/>
<polygon points="556.9,178.3 570.9,171.5 570.9,411.7 564.5,414.8 564.5,182.3" fill="#dde7ef" stroke="#284858" stroke-width="0.9" stroke-linejoin="round"/>
<polygon points="570.9,171.5 579.0,176.1 579.0,415.6 570.9,411.7" fill="#97adba" stroke="#284858" stroke-width="0.9" stroke-linejoin="round"/>
<polygon points="673.8,93.8 681.1,89.9 693.9,98.1 693.9,100.0 689.6,101.9 681.5,97.3 673.8,101.2" fill="#d6e2ea" stroke="#2c5060" stroke-width="0.9" stroke-linejoin="round"/>
<polygon points="673.8,93.8 681.1,89.9 681.5,97.3 673.8,101.2" fill="#e6eef3" stroke="#2c5060" stroke-width="0.7"/>
<polygon points="672.9,93.9 680.7,90.1 684.2,92.0 676.4,95.9" fill="#fbeec0" stroke="#222" stroke-width="0.8"/>
<polygon points="672.9,93.9 676.4,95.9 676.4,103.6 672.9,102.1" fill="#f2cf72" stroke="#222" stroke-width="0.8"/>
<polygon points="688.8,103.2 696.4,106.8 696.4,338.6 688.8,334.0" fill="#8ba3b3" stroke="#284858" stroke-width="0.9" stroke-linejoin="round"/>
<polygon points="688.8,102.8 702.8,96.0 702.8,326.7 696.4,329.8 696.4,106.8" fill="#dde7ef" stroke="#284858" stroke-width="0.9" stroke-linejoin="round"/>
<polygon points="702.8,96.0 710.9,100.6 710.9,330.6 702.8,326.7" fill="#97adba" stroke="#284858" stroke-width="0.9" stroke-linejoin="round"/>
<g opacity="1.0"><ellipse cx="535.1" cy="294.0" rx="5.7" ry="6.9" fill="#dc3418" stroke="#2a0c06" stroke-width="1.1"/><ellipse cx="535.8" cy="294.2" rx="3.4" ry="4.3" fill="#c42b12" stroke="#4a120a" stroke-width="0.8"/><path d="M533.9,291.4 l2.8,5 M537.5,291.8 l-3.2,4.4 M533.1,294.3 h5" stroke="#3a0e08" stroke-width="0.6"/></g>
<g opacity="1.0"><ellipse cx="536.7" cy="340.7" rx="5.7" ry="6.9" fill="#dc3418" stroke="#2a0c06" stroke-width="1.1"/><ellipse cx="537.4" cy="340.9" rx="3.4" ry="4.3" fill="#c42b12" stroke="#4a120a" stroke-width="0.8"/><path d="M535.5,338.1 l2.8,5 M539.1,338.5 l-3.2,4.4 M534.7,341.0 h5" stroke="#3a0e08" stroke-width="0.6"/></g>
<g opacity="1.0"><ellipse cx="535.4" cy="384.3" rx="5.7" ry="6.9" fill="#dc3418" stroke="#2a0c06" stroke-width="1.1"/><ellipse cx="536.1" cy="384.5" rx="3.4" ry="4.3" fill="#c42b12" stroke="#4a120a" stroke-width="0.8"/><path d="M534.2,381.7 l2.8,5 M537.8,382.1 l-3.2,4.4 M533.4,384.6 h5" stroke="#3a0e08" stroke-width="0.6"/></g>
<g opacity="1.0"><ellipse cx="605.5" cy="207.0" rx="5.7" ry="6.9" fill="#dc3418" stroke="#2a0c06" stroke-width="1.1"/><ellipse cx="606.2" cy="207.2" rx="3.4" ry="4.3" fill="#c42b12" stroke="#4a120a" stroke-width="0.8"/><path d="M604.3,204.4 l2.8,5 M607.9,204.8 l-3.2,4.4 M603.5,207.3 h5" stroke="#3a0e08" stroke-width="0.6"/></g>
<g opacity="1.0"><ellipse cx="605.5" cy="254.0" rx="5.7" ry="6.9" fill="#dc3418" stroke="#2a0c06" stroke-width="1.1"/><ellipse cx="606.2" cy="254.2" rx="3.4" ry="4.3" fill="#c42b12" stroke="#4a120a" stroke-width="0.8"/><path d="M604.3,251.4 l2.8,5 M607.9,251.8 l-3.2,4.4 M603.5,254.3 h5" stroke="#3a0e08" stroke-width="0.6"/></g>
<g opacity="1.0"><ellipse cx="605.5" cy="301.0" rx="5.7" ry="6.9" fill="#dc3418" stroke="#2a0c06" stroke-width="1.1"/><ellipse cx="606.2" cy="301.2" rx="3.4" ry="4.3" fill="#c42b12" stroke="#4a120a" stroke-width="0.8"/><path d="M604.3,298.4 l2.8,5 M607.9,298.8 l-3.2,4.4 M603.5,301.3 h5" stroke="#3a0e08" stroke-width="0.6"/></g>
<g opacity="1.0"><ellipse cx="605.5" cy="343.5" rx="5.7" ry="6.9" fill="#dc3418" stroke="#2a0c06" stroke-width="1.1"/><ellipse cx="606.2" cy="343.7" rx="3.4" ry="4.3" fill="#c42b12" stroke="#4a120a" stroke-width="0.8"/><path d="M604.3,340.9 l2.8,5 M607.9,341.3 l-3.2,4.4 M603.5,343.8 h5" stroke="#3a0e08" stroke-width="0.6"/></g>
<g opacity="1.0"><ellipse cx="729.5" cy="133.0" rx="5.7" ry="6.9" fill="#dc3418" stroke="#2a0c06" stroke-width="1.1"/><ellipse cx="730.2" cy="133.2" rx="3.4" ry="4.3" fill="#c42b12" stroke="#4a120a" stroke-width="0.8"/><path d="M728.3,130.4 l2.8,5 M731.9,130.8 l-3.2,4.4 M727.5,133.3 h5" stroke="#3a0e08" stroke-width="0.6"/></g>
<polygon points="645.7,192.3 702.5,159.7 702.5,340.6 645.7,373.2" fill="#95ad91" fill-opacity="0.78" stroke="#5d6a58" stroke-width="0.8"/>
<polygon points="690.0,167.0 696.1,163.5 696.1,342.0 690.0,339.0" fill="#e9f0f2"/>
<polygon points="696.1,163.5 703.0,159.5 703.0,340.6 696.1,342.0" fill="#cfdcd6"/>
<polygon points="645.7,364.0 690.0,339.0 696.1,342.0 703.0,340.6 645.7,373.2" fill="#bccdb5" stroke="#5d6a58" stroke-width="0.6"/>
<polyline points="645.7,373.2 703.0,340.6" fill="none" stroke="#3a3030" stroke-width="0.9"/>
<ellipse cx="671.3" cy="215.0" rx="5.6" ry="6.6" fill="#c5c1a8" fill-opacity="0.6" stroke="#f3d9c4" stroke-width="1.4"/><ellipse cx="671.8" cy="215.0" rx="2.8" ry="3.6" fill="none" stroke="#f3d9c4" stroke-width="0.8"/>
<ellipse cx="671.3" cy="305.0" rx="5.6" ry="6.6" fill="#c5c1a8" fill-opacity="0.6" stroke="#f3d9c4" stroke-width="1.4"/><ellipse cx="671.8" cy="305.0" rx="2.8" ry="3.6" fill="none" stroke="#f3d9c4" stroke-width="0.8"/>
<path d="M700.0,153.6 Q703.0,151.8 709.3,155.8 L773.9,118.8 L773.9,300.3 L703.2,335.4 L703.2,158 Z" fill="#93ac8c" stroke="#1d1d1d" stroke-width="0.9"/>
<path d="M703.2,157 L713.0,153 L713.0,330.5 L703.2,335.4 Z" fill="url(#glassHi)"/>
<path d="M700.0,153.6 Q703.0,151.8 709.3,155.8 L773.9,118.8" fill="none" stroke="#12673a" stroke-width="1.4"/>
<text x="10.8" y="690.5" font-family="Liberation Sans, sans-serif" font-size="14" fill="#000" stroke="#000" stroke-width="0.75">
<tspan x="10.8" y="690.5">Insulation boards not in full</tspan>
<tspan x="10.8" y="707.0">contact with the wall</tspan>
<tspan x="10.8" y="723.5">and gaps between joints,</tspan>
<tspan x="10.8" y="740.0">result in heat loss.</tspan>
</text>
<text x="245.5" y="690.5" font-family="Liberation Sans, sans-serif" font-size="14" fill="#000" stroke="#000" stroke-width="0.75">
<tspan x="245.5" y="690.5">Wind washing has a cooling</tspan>
<tspan x="245.5" y="707.0">effect on insulation</tspan>
<tspan x="245.5" y="723.5">without a membrane or</tspan>
<tspan x="245.5" y="740.0">other impervious facing.</tspan>
<tspan x="245.5" y="756.5">Thermal resistance of the</tspan>
<tspan x="245.5" y="773.0">insulation is reduced.</tspan>
</text>
<text x="513.8" y="685.5" font-family="Liberation Sans, sans-serif" font-size="14" fill="#000" stroke="#000" stroke-width="0.75">
<tspan x="513.8" y="685.5">Wind washing has no cooling effect</tspan>
<tspan x="513.8" y="702.0">on insulation if a membrane or a</tspan>
<tspan x="513.8" y="718.5">dense glass is used. Insulation in full</tspan>
<tspan x="513.8" y="735.0">contact with wall and tightly fitted at</tspan>
<tspan x="513.8" y="751.5">joints. Thermal resistance of insulation</tspan>
<tspan x="513.8" y="768.0">is maintained.</tspan>
</text>
</svg>
</body></html>
